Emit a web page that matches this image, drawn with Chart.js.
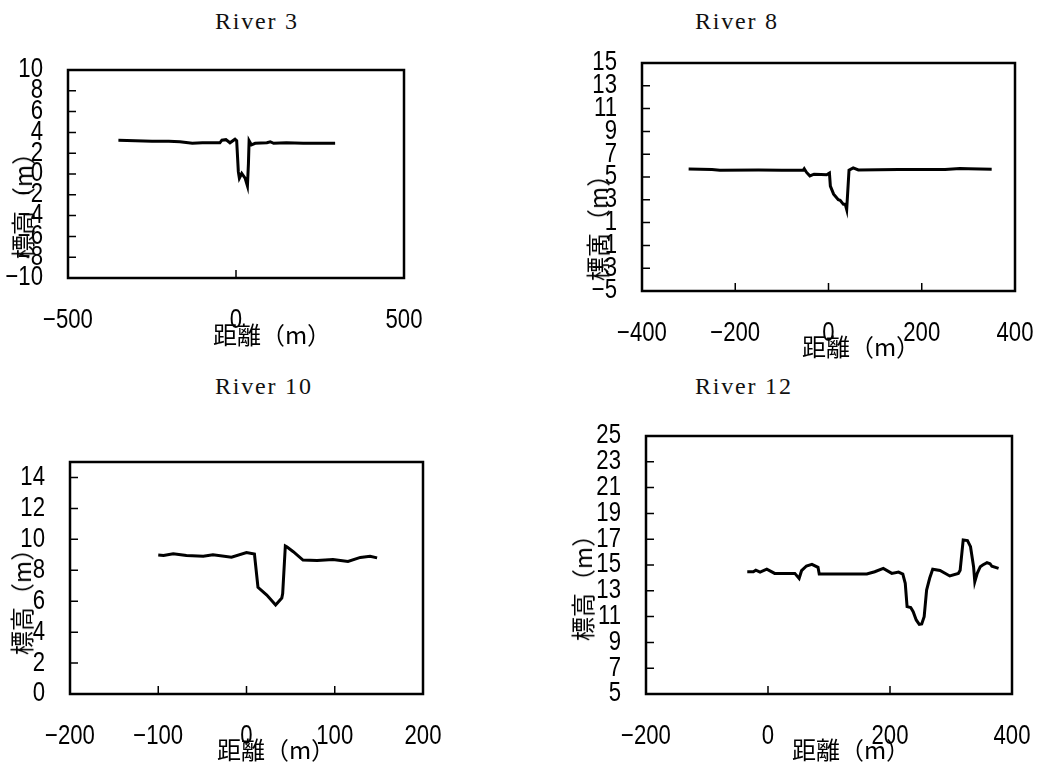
<!DOCTYPE html>
<html>
<head>
<meta charset="utf-8">
<script src="https://cdn.jsdelivr.net/npm/chart.js@4/dist/chart.umd.min.js"></script>
<style>
  body { margin: 0; background: #fff; }
  #page { position: relative; width: 1040px; height: 762px; overflow: hidden; }
  canvas { position: absolute; }
  .ptitle { position: absolute; font-family: "Liberation Serif", serif; font-size: 24px; color: #111; letter-spacing: 1.8px;
            transform: translateY(-50%); white-space: nowrap; line-height: 1; }
  .xt, .yt { position: absolute; font-family: "Noto Sans CJK JP", sans-serif; font-size: 24px; color: #000; white-space: nowrap; line-height: 1; }
  .xt { transform: translate(-50%, -50%); }
  .yt { transform: translate(-50%, -50%) rotate(-90deg); }
</style>
</head>
<body>
<div id="page">
  <canvas id="c3"></canvas>
  <canvas id="c8"></canvas>
  <canvas id="c10"></canvas>
  <canvas id="c12"></canvas>

  <div class="ptitle" style="left:215px; top:21px;">River 3</div>
  <div class="ptitle" style="left:695px; top:21px;">River 8</div>
  <div class="ptitle" style="left:215px; top:386px;">River 10</div>
  <div class="ptitle" style="left:695px; top:386px;">River 12</div>

  <div class="xt" style="left:272px; top:334px;">距離（m）</div>
  <div class="yt" style="left:22px; top:200px;">標高（m）</div>
  <div class="xt" style="left:861px; top:346px;">距離（m）</div>
  <div class="yt" style="left:597px; top:222px;">標高（m）</div>
  <div class="xt" style="left:276px; top:749px;">距離（m）</div>
  <div class="yt" style="left:21px; top:596px;">標高（m）</div>
  <div class="xt" style="left:851px; top:749px;">距離（m）</div>
  <div class="yt" style="left:582px; top:582px;">標高（m）</div>
</div>

<script>
// River 3
const r3X = [-350, -300, -250, -200, -167, -130, -100, -60, -48, -42, -30, -18, -3, 2, 7, 10, 17, 27, 34, 37, 39, 46, 57, 92, 102, 112, 150, 200, 250, 295];
const r3Y = [3.25, 3.2, 3.15, 3.15, 3.1, 2.95, 3.0, 3.0, 3.0, 3.25, 3.3, 3.0, 3.35, 3.2, 0.2, -0.4, 0.05, -0.4, -1.15, 1.0, 3.2, 2.8, 2.95, 3.0, 3.1, 2.95, 3.0, 2.95, 2.95, 2.95];
const r3XTicks = [-500, 0, 500];
const r3YTicks = [-10, -8, -6, -4, -2, 0, 2, 4, 6, 8, 10];

// River 8
const r8X = [-300, -250, -233, -150, -100, -54, -52, -47, -40, -31, -16, -4, 2, 4, 11, 21, 25, 32, 36, 39, 44, 53, 64, 150, 250, 282, 300, 350];
const r8Y = [5.7, 5.65, 5.6, 5.62, 5.6, 5.6, 5.72, 5.4, 5.1, 5.25, 5.22, 5.2, 5.35, 4.2, 3.5, 3.0, 2.95, 2.6, 2.6, 2.15, 5.6, 5.8, 5.62, 5.65, 5.65, 5.75, 5.72, 5.68];
const r8XTicks = [-400, -200, 0, 200, 400];
const r8YTicks = [-5, -3, -1, 1, 3, 5, 7, 9, 11, 13, 15];

// River 10 (axis runs to 15, last labelled tick is 14)
const r10X = [-100, -94, -83, -68, -49, -38, -17, 0, 9, 13, 23, 33, 40, 41, 44, 46, 53, 64, 80, 98, 115, 129, 140, 148];
const r10Y = [8.98, 8.95, 9.07, 8.95, 8.9, 9.0, 8.85, 9.14, 9.05, 6.9, 6.4, 5.75, 6.2, 6.5, 9.57, 9.5, 9.2, 8.66, 8.63, 8.7, 8.57, 8.83, 8.9, 8.8];
const r10XTicks = [-200, -100, 0, 100, 200];
const r10YTicks = [0, 2, 4, 6, 8, 10, 12, 14];
const r10YMax = 15;

// River 12
const r12X = [-34, -24, -20, -13, -2, 11, 44, 51, 55, 63, 72, 82, 84, 162, 175, 189, 203, 214, 221, 225, 228, 234, 238, 243, 248, 252, 256, 260, 265, 270, 282, 298, 312, 315, 320, 327, 332, 337, 339, 343, 348, 352, 359, 364, 367, 378];
const r12Y = [14.48, 14.48, 14.6, 14.45, 14.68, 14.35, 14.35, 13.96, 14.56, 14.92, 15.05, 14.82, 14.3, 14.3, 14.48, 14.74, 14.35, 14.45, 14.3, 13.58, 11.77, 11.7, 11.38, 10.74, 10.4, 10.43, 11.0, 13.06, 13.97, 14.67, 14.57, 14.15, 14.35, 14.6, 16.94, 16.89, 16.42, 14.87, 13.7, 14.35, 14.87, 15.0, 15.18, 15.1, 14.9, 14.74];
const r12XTicks = [-200, 0, 200, 400];
const r12YTicks = [5, 7, 9, 11, 13, 15, 17, 19, 21, 23, 25];

const tickFont = { family: '"Liberation Sans", Arial, sans-serif', size: 27 };
const fmt = v => String(v).replace('-', '\u2212');

// frame around the plot area and short inward tick marks
const frameTicks = {
    id: 'frameTicks',
    afterDraw(chart) {
        const { ctx, chartArea: a, scales: { x, y } } = chart;
        ctx.save();
        ctx.strokeStyle = '#000';
        ctx.lineWidth = 1.5;
        ctx.beginPath();
        x.ticks.forEach(t => {
            if (t.value > x.min && t.value < x.max) {
                const px = x.getPixelForValue(t.value);
                ctx.moveTo(px, a.bottom);
                ctx.lineTo(px, a.bottom - 8);
            }
        });
        y.ticks.forEach(t => {
            if (t.value > y.min && t.value < y.max) {
                const py = y.getPixelForValue(t.value);
                ctx.moveTo(a.left, py);
                ctx.lineTo(a.left + 8, py);
            }
        });
        ctx.stroke();
        ctx.lineWidth = 2.5;
        ctx.strokeRect(a.left, a.top, a.width, a.height);
        ctx.restore();
    }
};

// narrow the tick label glyphs (the original uses a half-width gothic face)
function condenseText(ctx, k) {
    const orig = ctx.fillText.bind(ctx);
    ctx.fillText = function (text, x, y, maxWidth) {
        this.save();
        this.translate(x, y);
        this.scale(k, 1);
        orig(text, 0, 0);
        this.restore();
    };
}

function zeroPad(s) {
    s.paddingLeft = 0; s.paddingRight = 0; s.paddingTop = 0; s.paddingBottom = 0;
}

function makePanel(id, box, xs, ys, xTicks, yTicks, yMax) {
    const [L, T, R, B] = box;
    const canvas = document.getElementById(id);
    const w = (R - L) + 68 + 30, h = (B - T) + 15 + 60;
    canvas.style.left = (L - 68) + 'px';
    canvas.style.top = (T - 15) + 'px';
    canvas.style.width = w + 'px';
    canvas.style.height = h + 'px';
    canvas.width = w;
    canvas.height = h;
    const ctx = canvas.getContext('2d');
    condenseText(ctx, 0.82);

    new Chart(ctx, {
        type: 'scatter',
        data: {
            datasets: [{
                data: xs.map((x, i) => ({ x: x, y: ys[i] })),
                showLine: true,
                borderColor: '#000',
                borderWidth: 3,
                pointRadius: 0,
                tension: 0
            }]
        },
        options: {
            responsive: false,
            animation: false,
            layout: { padding: { left: 0, top: 15, right: 30, bottom: 0 } },
            plugins: { legend: { display: false }, tooltip: { enabled: false } },
            scales: {
                x: {
                    type: 'linear',
                    min: xTicks[0], max: xTicks[xTicks.length - 1],
                    afterBuildTicks: s => { s.ticks = xTicks.map(v => ({ value: v })); },
                    afterFit: s => { s.height = 60; zeroPad(s); },
                    grid: { display: false, drawTicks: false },
                    border: { display: false },
                    ticks: { font: tickFont, color: '#000', padding: 26, maxRotation: 0, minRotation: 0, autoSkip: false, callback: fmt }
                },
                y: {
                    type: 'linear',
                    min: yTicks[0], max: yMax !== undefined ? yMax : yTicks[yTicks.length - 1],
                    afterBuildTicks: s => { s.ticks = yTicks.map(v => ({ value: v })); },
                    afterFit: s => { s.width = 68; zeroPad(s); },
                    grid: { display: false, drawTicks: false },
                    border: { display: false },
                    ticks: { font: tickFont, color: '#000', padding: 25, autoSkip: false, callback: fmt }
                }
            }
        },
        plugins: [frameTicks]
    });
}

makePanel('c3', [68, 70, 404, 278], r3X, r3Y, r3XTicks, r3YTicks);
makePanel('c8', [642, 63, 1015, 291], r8X, r8Y, r8XTicks, r8YTicks);
makePanel('c10', [70, 462, 423, 694], r10X, r10Y, r10XTicks, r10YTicks, r10YMax);
makePanel('c12', [646, 436, 1012, 694], r12X, r12Y, r12XTicks, r12YTicks);
</script>
</body>
</html>
